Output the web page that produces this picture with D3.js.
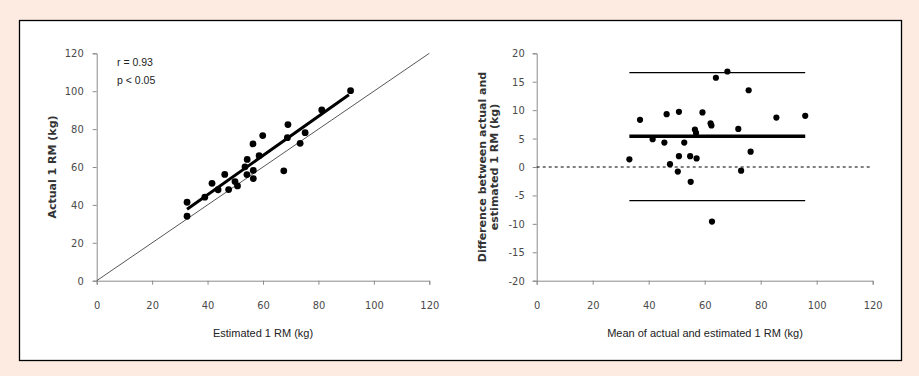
<!DOCTYPE html>
<html>
<head>
<meta charset="utf-8">
<script src="https://cdn.jsdelivr.net/npm/d3@7"></script>
<style>
  body { margin: 0; background: #fdebe1; }
  svg { display: block; }
  text { font-family: "Liberation Sans", Arial, sans-serif; }
</style>
</head>
<body>
<div id="grafik"></div>
<script>
// lijevi graf: procijenjeni vs stvarni 1 RM
const procijenjeno = [32.6, 32.6, 39.0, 41.6, 43.8, 46.2, 47.6, 49.9, 50.8, 53.5, 54.3, 54.2, 56.4, 56.5, 56.5, 58.6, 59.9, 67.5, 69.0, 68.8, 73.4, 75.2, 81.2, 91.6];
const stvarno = [41.4, 34.0, 44.1, 51.4, 48.0, 56.1, 48.1, 52.3, 50.0, 60.1, 64.0, 56.0, 72.2, 58.2, 53.9, 66.0, 76.6, 58.0, 82.4, 75.5, 72.5, 78.1, 90.1, 100.3];
const regresija = { od: 32.6, do: 91.0, nagib: 1.034, odsjecak: 4.0 };

// desni graf: Bland-Altman
const prosjek = [33.1, 36.9, 41.4, 45.6, 46.4, 47.6, 50.4, 50.8, 50.8, 52.7, 54.8, 55.0, 56.5, 56.9, 57.1, 59.2, 62.1, 62.4, 62.6, 64.0, 68.1, 72.0, 73.0, 75.7, 76.4, 85.6, 95.9];
const razlika = [1.35, 8.3, 4.9, 4.3, 9.3, 0.5, -0.8, 1.9, 9.7, 4.3, 1.9, -2.6, 6.6, 6.0, 1.5, 9.6, 7.7, 7.3, -9.6, 15.7, 16.8, 6.7, -0.65, 13.5, 2.7, 8.7, 9.0];
const granice = { srednja: 5.4, gornja: 16.6, donja: -5.9, od: 33.1, do: 95.9 };

const xTickovi = [0, 20, 40, 60, 80, 100, 120];
const yTickoviL = [0, 20, 40, 60, 80, 100, 120];
const yTickoviD = [-20, -15, -10, -5, 0, 5, 10, 15, 20];

const sirina = 919, visina = 376;

const okvir = d3.select("#grafik")
  .append("svg")
  .attr("width", sirina)
  .attr("height", visina);

okvir.append("rect")
  .attr("x", 19.5).attr("y", 20.5)
  .attr("width", 882).attr("height", 340)
  .attr("fill", "#fff")
  .attr("stroke", "#000")
  .attr("stroke-width", 1.3);

const osStil = (g) => {
  g.select(".domain").attr("stroke", "#8c8c8c");
  g.selectAll(".tick line").attr("stroke", "#8c8c8c");
  g.selectAll(".tick text")
    .attr("fill", "#4a4a4a")
    .style("font-size", "11px")
    .style("font-family", "'DejaVu Sans Condensed', 'Liberation Sans', sans-serif");
};

// obični minus (crtica), kao u originalu
const broj = d => String(d);

// ---------- lijevi ----------
const xL = d3.scaleLinear().domain([0, 120]).range([96.7, 429.3]);
const yL = d3.scaleLinear().domain([0, 120]).range([280.7, 53.3]);

okvir.append("g")
  .attr("transform", `translate(0, ${yL(0)})`)
  .call(d3.axisBottom(xL).tickValues(xTickovi).tickSize(4).tickPadding(17).tickFormat(broj))
  .call(osStil);

okvir.append("g")
  .attr("transform", `translate(${xL(0)}, 0)`)
  .call(d3.axisLeft(yL).tickValues(yTickoviL).tickSize(4).tickPadding(9).tickFormat(broj))
  .call(osStil);

// linija identiteta
okvir.append("line")
  .attr("x1", xL(0)).attr("y1", yL(0))
  .attr("x2", xL(120)).attr("y2", yL(120))
  .attr("stroke", "#444")
  .attr("stroke-width", 0.9);

// regresijski pravac
okvir.append("line")
  .attr("x1", xL(regresija.od)).attr("y1", yL(regresija.nagib * regresija.od + regresija.odsjecak))
  .attr("x2", xL(regresija.do)).attr("y2", yL(regresija.nagib * regresija.do + regresija.odsjecak))
  .attr("stroke", "#000")
  .attr("stroke-width", 3);

okvir.append("g")
  .selectAll("circle")
  .data(procijenjeno)
  .enter()
  .append("circle")
  .attr("cx", d => xL(d))
  .attr("cy", (d, i) => yL(stvarno[i]))
  .attr("r", 3.4)
  .attr("fill", "#000");

okvir.append("text")
  .attr("x", 117).attr("y", 66)
  .style("font-size", "10.5px")
  .attr("fill", "#222")
  .text("r = 0.93");
okvir.append("text")
  .attr("x", 117).attr("y", 84)
  .style("font-size", "10.5px")
  .attr("fill", "#222")
  .text("p < 0.05");

okvir.append("text")
  .attr("x", 263).attr("y", 337)
  .attr("text-anchor", "middle")
  .style("font-size", "11px")
  .attr("fill", "#222")
  .text("Estimated 1 RM  (kg)");

okvir.append("text")
  .attr("transform", `translate(56, 167) rotate(-90)`)
  .attr("text-anchor", "middle")
  .style("font-size", "11px")
  .style("font-weight", "bold")
  .style("font-family", "'DejaVu Sans', sans-serif")
  .attr("fill", "#333")
  .text("Actual 1 RM  (kg)");

// ---------- desni ----------
const xD = d3.scaleLinear().domain([0, 120]).range([536.7, 872.7]);
const yD = d3.scaleLinear().domain([-20, 20]).range([280.7, 53.3]);

okvir.append("g")
  .attr("transform", `translate(0, ${yD(-20)})`)
  .call(d3.axisBottom(xD).tickValues(xTickovi).tickSize(4).tickPadding(17).tickFormat(broj))
  .call(osStil);

okvir.append("g")
  .attr("transform", `translate(${xD(0)}, 0)`)
  .call(d3.axisLeft(yD).tickValues(yTickoviD).tickSize(4).tickPadding(8).tickFormat(broj))
  .call(osStil);

okvir.append("line")
  .attr("x1", xD(0)).attr("y1", yD(0))
  .attr("x2", xD(120)).attr("y2", yD(0))
  .attr("stroke", "#000")
  .attr("stroke-width", 1)
  .attr("stroke-dasharray", "3,3");

const linije = [
  { v: granice.gornja, w: 1.2 },
  { v: granice.srednja, w: 3.5 },
  { v: granice.donja, w: 1.2 },
];
okvir.append("g")
  .selectAll("line")
  .data(linije)
  .enter()
  .append("line")
  .attr("x1", xD(granice.od)).attr("x2", xD(granice.do))
  .attr("y1", d => yD(d.v)).attr("y2", d => yD(d.v))
  .attr("stroke", "#000")
  .attr("stroke-width", d => d.w);

okvir.append("g")
  .selectAll("circle")
  .data(prosjek)
  .enter()
  .append("circle")
  .attr("cx", d => xD(d))
  .attr("cy", (d, i) => yD(razlika[i]))
  .attr("r", 3.1)
  .attr("fill", "#000");

okvir.append("text")
  .attr("x", 705).attr("y", 337)
  .attr("text-anchor", "middle")
  .style("font-size", "11px")
  .attr("fill", "#222")
  .text("Mean of actual and estimated 1 RM (kg)");

const yNaslov = okvir.append("text")
  .attr("transform", `translate(486, 167) rotate(-90)`)
  .attr("text-anchor", "middle")
  .style("font-size", "11px")
  .style("font-weight", "bold")
  .style("font-family", "'DejaVu Sans', sans-serif")
  .attr("fill", "#333");
yNaslov.append("tspan").attr("x", 0).attr("dy", 0).text("Difference between actual  and");
yNaslov.append("tspan").attr("x", 0).attr("dy", 12).text("estimated 1 RM (kg)");
</script>
</body>
</html>
